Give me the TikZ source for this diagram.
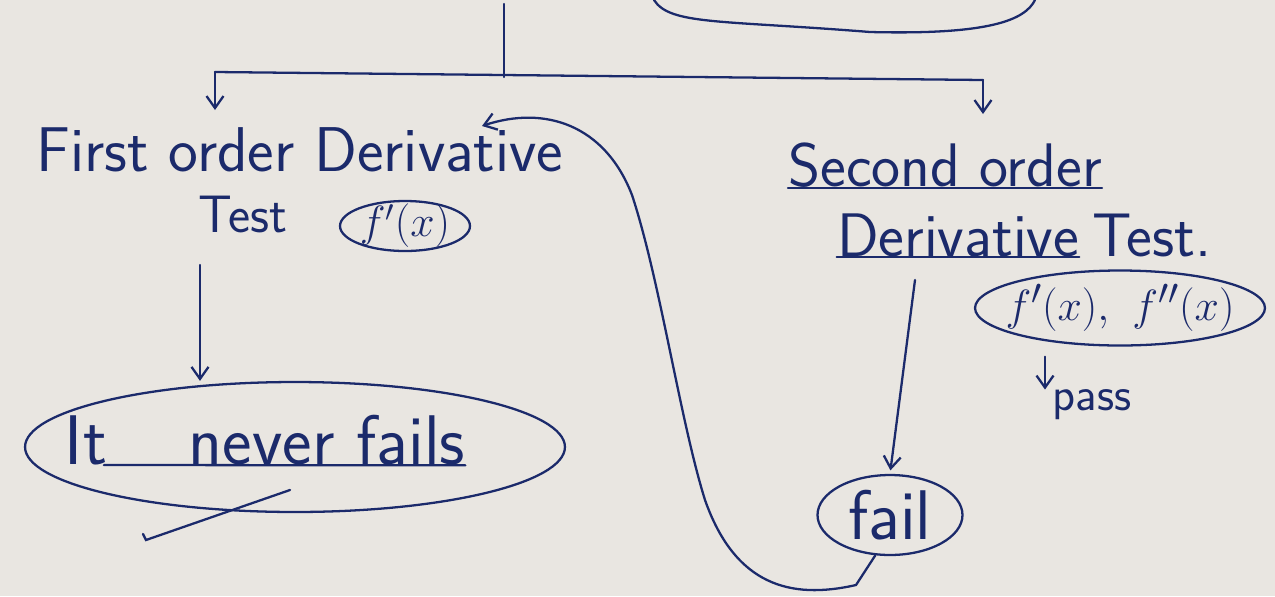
\documentclass[tikz,border=0pt]{standalone}
\usepackage{tikz}
\usetikzlibrary{shapes.geometric,arrows.meta,positioning,calc}
\usepackage{xcolor}
\definecolor{InkBlue}{HTML}{1B2A6B}
\definecolor{Paper}{HTML}{E9E6E1}
\tikzset{
  ink/.style={draw=InkBlue, line width=1.3pt, line cap=round},
  arrow/.style={ink, -{Straight Barb[length=2.4mm,width=3.4mm]}},
  loopbox/.style={ellipse, ink, inner sep=0pt},
  hand/.style={font=\sffamily\fontsize{36}{40}\selectfont, text=InkBlue, inner sep=0pt},
}
\begin{document}
\begin{tikzpicture}[x=0.02cm, y=-0.02cm]
  \fill[Paper] (0,0) rectangle (1275,596);
  \useasboundingbox (0,0) rectangle (1275,596);
  % top of the sheet
  \draw[ink] (654,0) .. controls (670,25) and (720,20) .. (870,32) .. controls (990,35) and (1025,20) .. (1035,0);
  \coordinate (top) at (504,4);
  \coordinate (split) at (504,77);
  \coordinate (lcorner) at (215,72);
  \coordinate (rcorner) at (983,80);
  \coordinate (ltip) at (215,110);
  \coordinate (rtip) at (983,114);
  \draw[ink] (top) -- (split);
  \draw[ink] (lcorner) -- (rcorner);
  \draw[arrow] (lcorner) -- (ltip);
  \draw[arrow] (rcorner) -- (rtip);
  % first order branch
  \node[hand] (first) at (300,150) {First order Derivative};
  \node[hand, font=\sffamily\fontsize{30}{34}\selectfont] (test) at (243,214) {Test};
  \node[loopbox, hand, font=\fontsize{26}{30}\selectfont, inner ysep=-3pt, minimum width=2.6cm, minimum height=1cm] (fone) at (405,226) {$f'(x)$};
  \node[loopbox, minimum width=10.8cm, minimum height=2.6cm] (neverbox) at (295,447) {};
  \node[hand, font=\sffamily\fontsize{40}{44}\selectfont] (it) at (86,440) {It};
  \node[hand, font=\sffamily\fontsize{40}{44}\selectfont] (nf) at (327,440) {never fails};
  \draw[ink] ([xshift=-2pt]it.south east) -- (nf.south east);
  \coordinate (fstart) at (200,265);
  \draw[arrow] (fstart) -- (fstart |- neverbox.north);
  \coordinate (tickA) at (146,540);
  \coordinate (tickB) at (290,490);
  \draw[ink] ($(tickA)+(-3,-6)$) -- (tickA) -- (tickB);
  % second order branch
  \node[hand, font=\sffamily\fontsize{35}{39}\selectfont] (second) at (945,165) {Second order};
  \draw[ink] (second.south west) -- (second.south east);
  \node[hand, font=\sffamily\fontsize{35}{39}\selectfont] (deriv) at (958,235) {Derivative};
  \node[hand, font=\sffamily\fontsize{35}{39}\selectfont, right=0.25cm of deriv] (test2) {Test.};
  \draw[ink] (deriv.south west) -- (deriv.south east);
  \node[loopbox, hand, font=\fontsize{30}{34}\selectfont, inner xsep=-0.5cm, minimum width=5.8cm, minimum height=1.5cm] (ftwo) at (1120,308) {$f'(x),\ f''(x)$};
  \node[hand, font=\sffamily\fontsize{27}{31}\selectfont] (pass) at (1092,405) {pass};
  \node[loopbox, hand, font=\sffamily\fontsize{40}{44}\selectfont, inner ysep=-3pt, minimum width=2.9cm, minimum height=1.6cm] (fail) at (890,515) {fail};
  \draw[arrow] ($(ftwo.south)+(-75,10)$) -- ($(pass.north)+(-47,0)$);
  \coordinate (sstart) at (915,280);
  \draw[arrow, shorten >=2pt] (sstart) -- (fail.north);
  % back to the first test
  \coordinate (back) at (482,126);
  \draw[arrow] (fail.250) -- (856,585) .. controls (790,600) and (735,585) .. (705,500)
    .. controls (680,420) and (660,280) .. (632,195) .. controls (605,125) and (545,105) .. (back);
\end{tikzpicture}
\end{document}
